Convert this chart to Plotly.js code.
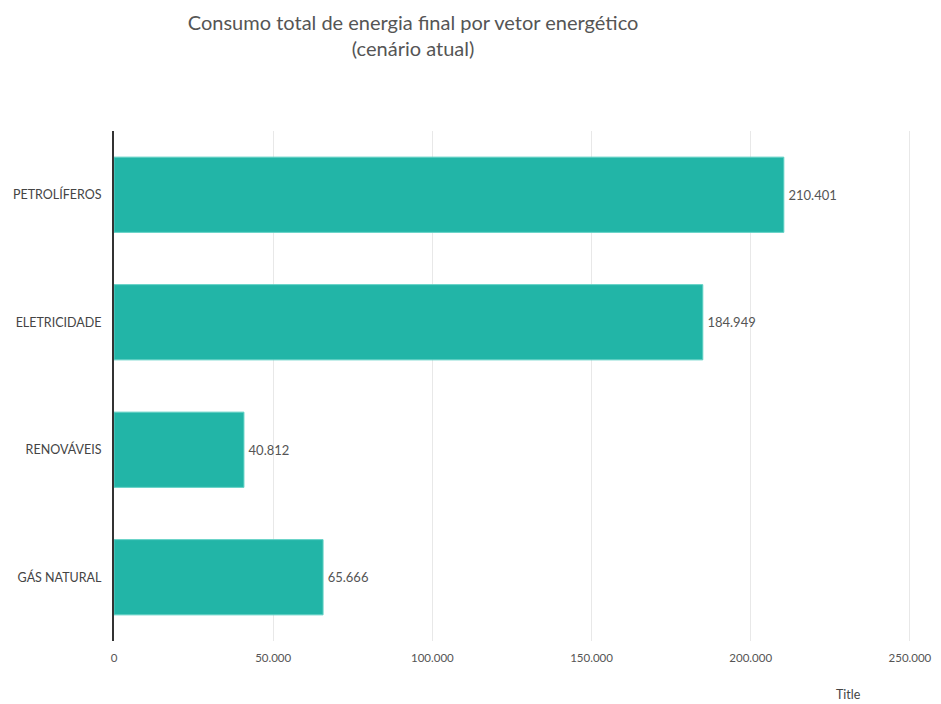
<!DOCTYPE html>
<html>
<head>
<meta charset="utf-8">
<script src="https://cdn.plot.ly/plotly-3.0.1.min.js"></script>
<style>html,body{margin:0;padding:0;background:#fff;}#chart{width:941px;height:704px;}</style>
</head>
<body>
<div id="chart"></div>
<script>
const categories = ["PETROLÍFEROS", "ELETRICIDADE", "RENOVÁVEIS", "GÁS NATURAL"];
const values = [210401, 184949, 40812, 65666];
const xTicks = [0, 50000, 100000, 150000, 200000, 250000];

const trace = {
  type: "bar",
  orientation: "h",
  y: categories,
  x: values,
  width: 0.59,
  marker: {color: "#22b5a7", line: {color: "#5fd0c4", width: 1}},
  texttemplate: "\u2009%{x:,}",
  textposition: "outside",
  cliponaxis: false,
  textfont: {family: "Lato, 'Open Sans', sans-serif", size: 13, color: "#555"},
  hoverinfo: "none"
};

const layout = {
  width: 941, height: 704,
  paper_bgcolor: "#fff", plot_bgcolor: "#fff",
  separators: ",.",
  margin: {l: 114, r: 26, t: 131, b: 63},
  showlegend: false,
  title: {
    text: "Consumo total de energia final por vetor energético<br>(cenário atual)",
    font: {family: "Lato, 'Open Sans', sans-serif", size: 20, color: "#555"},
    xref: "container", x: 0.439, xanchor: "center",
    yref: "container", y: 0.958, yanchor: "top"
  },
  xaxis: {
    range: [0, 251600],
    tickvals: xTicks,
    tickformat: ",",
    showgrid: true, gridcolor: "#e8e8e8", gridwidth: 1,
    zeroline: false, showline: false,
    ticks: "", ticklabelstandoff: 8,
    tickfont: {family: "Lato, 'Open Sans', sans-serif", size: 11.5, color: "#555"},
    fixedrange: true
  },
  yaxis: {
    autorange: "reversed",
    showline: true, linecolor: "#333", linewidth: 2,
    showgrid: false, zeroline: false,
    ticks: "", ticklabelstandoff: 8,
    tickfont: {family: "Lato, 'Open Sans', sans-serif", size: 12.5, color: "#444"},
    fixedrange: true
  },
  annotations: [{
    text: "Title", xref: "paper", yref: "paper",
    x: (848 - 114) / (941 - 114 - 26), y: -0.105,
    xanchor: "center", yanchor: "middle", showarrow: false,
    font: {family: "Lato, 'Open Sans', sans-serif", size: 12.5, color: "#444"}
  }]
};

Plotly.newPlot("chart", [trace], layout, {displayModeBar: false, staticPlot: true});
</script>
</body>
</html>
